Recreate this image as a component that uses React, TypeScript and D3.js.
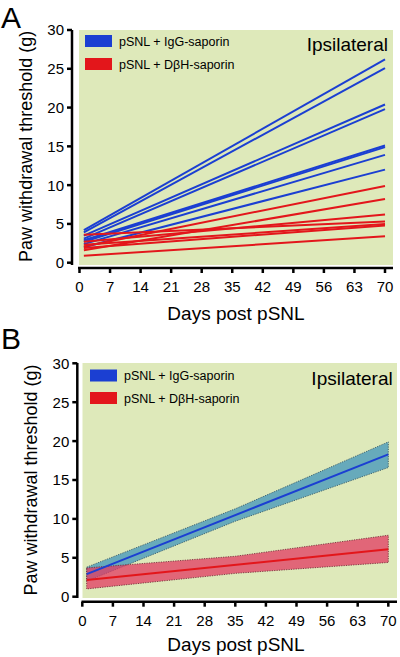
import React from "react";
import * as d3 from "d3";

// ---------- data ----------
const xTicks = [0, 7, 14, 21, 28, 35, 42, 49, 56, 63, 70];
const yTicks = [0, 5, 10, 15, 20, 25, 30];
const fitDays = [1, 70];

// Panel A: individual linear fits (start value at day 1, end value at day 70)
const blueStart = [4.2, 3.9, 3.5, 3.1, 2.9, 2.7, 2.4, 2.0];
const blueEnd = [26.2, 25.1, 20.4, 19.8, 15.1, 14.9, 13.9, 12.0];
const redStart = [3.6, 2.1, 1.6, 2.7, 2.3, 1.9, 0.9];
const redEnd = [5.3, 9.9, 8.2, 6.2, 5.0, 4.8, 3.4];

// Panel B: group fits with confidence bands
const bandDays = [1, 35, 70];
const blueFit = [2.9, 18.3];
const blueLower = [2.0, 9.7, 16.6];
const blueUpper = [3.8, 11.3, 19.9];
const redFit = [2.15, 6.1];
const redLower = [1.0, 3.0, 4.4];
const redUpper = [3.7, 5.2, 7.9];

const legendLabels = ["pSNL + IgG-saporin", "pSNL + D\u03B2H-saporin"];

const FONT = "'Liberation Sans', Arial, sans-serif";
const BG = "#dee9ba";
const BLUE = "#1b3fd2";
const RED = "#e3161b";

type PanelProps = {
  letter: string;
  letterY: number;
  x0: number; x1: number;
  y0: number; y30: number;
  bgL: number; bgR: number; bgT: number; bgB: number;
  yAxisX: number; xAxisY: number;
  legX: number; legY: number[];
  ipsiX: number; ipsiY: number;
  yLabelX: number;
  xLabelY: number;
  children: (x: d3.ScaleLinear<number, number>, y: d3.ScaleLinear<number, number>) => React.ReactNode;
};

function Panel(p: PanelProps) {
  const x = d3.scaleLinear().domain([0, 70]).range([p.x0, p.x1]);
  const y = d3.scaleLinear().domain([0, 30]).range([p.y0, p.y30]);
  const legColors = [BLUE, RED];
  return (
    <g fontFamily={FONT}>
      <text x={1} y={p.letterY} fontSize={30}>{p.letter}</text>
      <rect x={p.bgL} y={p.bgT} width={p.bgR - p.bgL} height={p.bgB - p.bgT} fill={BG} />
      {p.children(x, y)}
      {legendLabels.map((l, i) => (
        <g key={l}>
          <rect x={p.legX} y={p.legY[i]} width={27} height={12} fill={legColors[i]} />
          <text x={p.legX + 34} y={p.legY[i] + 10.5} fontSize={12.5}>{l}</text>
        </g>
      ))}
      <text x={p.ipsiX} y={p.ipsiY} fontSize={19} textAnchor="end">Ipsilateral</text>
      <line x1={p.yAxisX} x2={p.yAxisX} y1={p.bgT} y2={p.bgB} stroke="#000" strokeWidth={2.5} />
      {yTicks.map((t) => (
        <g key={t}>
          <line x1={p.yAxisX - 5} x2={p.yAxisX} y1={y(t)} y2={y(t)} stroke="#000" strokeWidth={2.5} />
          <text x={p.yAxisX - 8} y={y(t)} dy="0.36em" textAnchor="end" fontSize={15}>{t}</text>
        </g>
      ))}
      <line x1={p.bgL - 1} x2={p.bgR} y1={p.xAxisY} y2={p.xAxisY} stroke="#000" strokeWidth={2.5} />
      {xTicks.map((t) => (
        <g key={t}>
          <line x1={x(t)} x2={x(t)} y1={p.xAxisY} y2={p.xAxisY + 5} stroke="#000" strokeWidth={2.5} />
          <text x={x(t)} y={p.xAxisY + 24} textAnchor="middle" fontSize={15}>{t}</text>
        </g>
      ))}
      <text x={236} y={p.xLabelY} textAnchor="middle" fontSize={19}>Days post pSNL</text>
      <text
        transform={`translate(${p.yLabelX},${(p.y0 + p.y30) / 2}) rotate(-90)`}
        textAnchor="middle"
        fontSize={18}
      >
        Paw withdrawal threshold (g)
      </text>
    </g>
  );
}

export default function App() {
  const line = (x: d3.ScaleLinear<number, number>, y: d3.ScaleLinear<number, number>) =>
    d3.line<[number, number]>().x((d) => x(d[0])).y((d) => y(d[1]));

  const band = (
    x: d3.ScaleLinear<number, number>,
    y: d3.ScaleLinear<number, number>,
    lo: number[],
    hi: number[]
  ) =>
    d3
      .area<number>()
      .x((_, i) => x(bandDays[i]))
      .y0((_, i) => y(lo[i]))
      .y1((_, i) => y(hi[i]))(bandDays) as string;

  return (
    <svg width={400} height={657} style={{ position: "absolute", left: 0, top: 0, background: "#fff" }}>
      <Panel
        letter="A" letterY={28}
        x0={79.5} x1={385} y0={262.7} y30={30}
        bgL={79} bgR={393} bgT={30} bgB={265}
        yAxisX={72} xAxisY={268}
        legX={85} legY={[35, 58]}
        ipsiX={388} ipsiY={51}
        yLabelX={32} xLabelY={320}
      >
        {(x, y) => (
          <g fill="none" strokeWidth={2}>
            {blueStart.map((s, i) => (
              <path key={"b" + i} d={line(x, y)([[fitDays[0], s], [fitDays[1], blueEnd[i]]])!} stroke={BLUE} />
            ))}
            {redStart.map((s, i) => (
              <path key={"r" + i} d={line(x, y)([[fitDays[0], s], [fitDays[1], redEnd[i]]])!} stroke={RED} />
            ))}
          </g>
        )}
      </Panel>
      <Panel
        letter="B" letterY={349}
        x0={82.3} x1={388.3} y0={596.7} y30={363.3}
        bgL={82.5} bgR={397} bgT={363} bgB={598}
        yAxisX={77.3} xAxisY={601.7}
        legX={90} legY={[369.5, 392]}
        ipsiX={392.7} ipsiY={385}
        yLabelX={37} xLabelY={651}
      >
        {(x, y) => (
          <g>
            <path d={band(x, y, blueLower, blueUpper)} fill="#5aa3bb" fillOpacity={0.9} stroke="#2a4a5a" strokeWidth={0.8} strokeDasharray="1.2,1.2" />
            <path d={band(x, y, redLower, redUpper)} fill="#e23a62" fillOpacity={0.75} stroke="#6a2030" strokeWidth={0.8} strokeDasharray="1.2,1.2" />
            <path d={line(x, y)([[fitDays[0], blueFit[0]], [fitDays[1], blueFit[1]]])!} stroke={BLUE} strokeWidth={2} fill="none" />
            <path d={line(x, y)([[fitDays[0], redFit[0]], [fitDays[1], redFit[1]]])!} stroke={RED} strokeWidth={2} fill="none" />
          </g>
        )}
      </Panel>
    </svg>
  );
}
